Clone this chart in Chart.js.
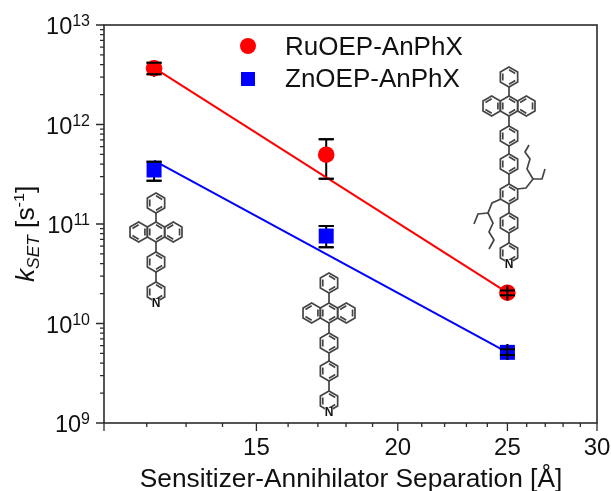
<!DOCTYPE html>
<html>
<head>
<meta charset="utf-8">
<title>kSET vs separation</title>
<script src="https://cdn.jsdelivr.net/npm/chart.js@4"></script>
<style>
 html, body { margin: 0; padding: 0; background: #fff; }
 canvas { display: block; }
</style>
</head>
<body>
<canvas id="ksetChart" width="611" height="491"></canvas>
<script>
var separation = [12.18, 17.29, 25];
var fitSeparation = [12.18, 25];

var ruValues = [3.67e12, 4.97e11, 2.04e10];
var ruHigh = [4.18e12, 7.1e11, 2.14e10];
var ruLow = [3.2e12, 2.85e11, 1.92e10];
var ruFit = [3.7e12, 2.04e10];

var znValues = [3.49e11, 7.57e10, 5.13e9];
var znHigh = [4.23e11, 9.55e10, 5.5e9];
var znLow = [2.72e11, 5.83e10, 4.82e9];
var znFit = [4.33e11, 5.13e9];

var xTicks = [11, 12, 13, 14, 15, 16, 17, 18, 19, 20, 21, 22, 23, 24, 25, 26, 27, 28, 29, 30];
var xTickLabels = [15, 20, 25, 30];
var yDecades = [9, 10, 11, 12, 13];
var yMinorSteps = [2, 3, 4, 5, 6, 7, 8, 9];

var seriesNames = ["RuOEP-AnPhX", "ZnOEP-AnPhX"];
var xTitle = "Sensitizer-Annihilator Separation [Å]";

var FONT = '"Liberation Sans", Arial, sans-serif';
var INK = "#111";
var AXIS = "#2b2b2b";
var BOND = "#444";

function toPoints(xs, ys) {
 return xs.map(function (x, i) {
  return { x: x, y: ys[i] };
 });
}

function yTickValues() {
 var out = [];
 yDecades.forEach(function (d) {
  out.push({ value: Math.pow(10, d), major: true });
  if (d < yDecades[yDecades.length - 1]) {
   yMinorSteps.forEach(function (m) {
    out.push({ value: m * Math.pow(10, d) });
   });
  }
 });
 return out;
}

// the reference text runs a little wider than the plain font
function wideText(ctx, text, x, y, stretch) {
 ctx.save();
 ctx.translate(x, y);
 ctx.scale(stretch, 1);
 ctx.fillText(text, 0, 0);
 ctx.restore();
}

// error bars
function drawErrorBars(chart, low, high, onTop) {
 var ctx = chart.ctx;
 var xs = chart.scales.x;
 var ys = chart.scales.y;
 ctx.save();
 ctx.strokeStyle = "#000";
 ctx.lineWidth = 2;
 separation.forEach(function (v, i) {
  var x = xs.getPixelForValue(v);
  var top = ys.getPixelForValue(high[i]);
  var bot = ys.getPixelForValue(low[i]);
  var gap = bot - top;
  var ext = gap < 8 ? 5 : gap < 14 ? 2.5 : 0;
  ctx.beginPath();
  if (!onTop || gap < 8) {
   ctx.moveTo(x, top - ext);
   ctx.lineTo(x, bot + ext);
  }
  ctx.moveTo(x - 7.5, top);
  ctx.lineTo(x + 7.5, top);
  ctx.moveTo(x - 7.5, bot);
  ctx.lineTo(x + 7.5, bot);
  ctx.stroke();
 });
 ctx.restore();
}

// axes frame and ticks
function drawFrame(chart) {
 var ctx = chart.ctx;
 var a = chart.chartArea;
 ctx.save();
 ctx.strokeStyle = AXIS;
 ctx.lineWidth = 1.6;
 ctx.strokeRect(a.left, a.top, a.right - a.left, a.bottom - a.top);
 ctx.lineWidth = 1.3;
 ctx.beginPath();
 chart.scales.x.ticks.forEach(function (t) {
  var x = chart.scales.x.getPixelForValue(t.value);
  var major = xTickLabels.indexOf(t.value) >= 0 || t.value === 11;
  ctx.moveTo(x, a.bottom);
  ctx.lineTo(x, a.bottom + (major ? 8 : 4));
 });
 chart.scales.y.ticks.forEach(function (t) {
  var y = chart.scales.y.getPixelForValue(t.value);
  ctx.moveTo(a.left, y);
  ctx.lineTo(a.left - (t.major ? 8 : 4), y);
 });
 ctx.stroke();
 ctx.restore();
}

function drawYLabels(chart) {
 var ctx = chart.ctx;
 var right = chart.chartArea.left - 14;
 ctx.save();
 ctx.fillStyle = INK;
 ctx.textBaseline = "alphabetic";
 ctx.textAlign = "left";
 yDecades.forEach(function (d) {
  var y = chart.scales.y.getPixelForValue(Math.pow(10, d));
  var sup = String(d);
  ctx.font = "16px " + FONT;
  var supW = ctx.measureText(sup).width;
  ctx.fillText(sup, right - supW, y + 1);
  ctx.font = "23.5px " + FONT;
  var tenW = ctx.measureText("10").width;
  ctx.fillText("10", right - supW - tenW, y + 9);
 });
 ctx.restore();
}

function drawYTitle(chart) {
 var ctx = chart.ctx;
 var parts = [
  { t: "k", size: 25, dy: 0, style: "italic " },
  { t: "SET", size: 16.5, dy: 5, style: "italic " },
  { t: " [s", size: 25, dy: 0, style: "" },
  { t: "-1", size: 15.5, dy: -10, style: "" },
  { t: "]", size: 25, dy: 0, style: "" },
 ];
 ctx.save();
 ctx.translate(34, 282);
 ctx.rotate(-Math.PI / 2);
 ctx.scale(1.05, 1);
 ctx.fillStyle = INK;
 ctx.textAlign = "left";
 ctx.textBaseline = "alphabetic";
 var pos = 0;
 parts.forEach(function (p) {
  ctx.font = p.style + p.size + "px " + FONT;
  ctx.fillText(p.t, pos, p.dy);
  pos += ctx.measureText(p.t).width;
 });
 ctx.restore();
}

function drawXTitle(chart) {
 var ctx = chart.ctx;
 ctx.save();
 ctx.fillStyle = INK;
 ctx.font = "25px " + FONT;
 ctx.textAlign = "center";
 ctx.textBaseline = "alphabetic";
 wideText(ctx, xTitle, 351, 487, 1.052);
 ctx.restore();
}

function drawLegend(chart) {
 var ctx = chart.ctx;
 ctx.save();
 ctx.fillStyle = "#f00";
 ctx.beginPath();
 ctx.arc(248, 46, 8, 0, Math.PI * 2);
 ctx.fill();
 ctx.fillStyle = "#00f";
 ctx.fillRect(241, 72, 14, 14);
 ctx.fillStyle = INK;
 ctx.font = "25px " + FONT;
 ctx.textBaseline = "alphabetic";
 ctx.textAlign = "left";
 wideText(ctx, seriesNames[0], 285, 54.5, 1.04);
 wideText(ctx, seriesNames[1], 285, 87, 1.04);
 ctx.restore();
}

// molecule sketches
function hexCorners(cx, cy, r) {
 var out = [];
 for (var i = 0; i < 6; i++) {
  var a = -Math.PI / 2 + i * Math.PI / 3;
  out.push([cx + r * Math.cos(a), cy + r * Math.sin(a)]);
 }
 return out;
}

function hexagon(ctx, cx, cy, r, start) {
 var c = hexCorners(cx, cy, r);
 var inner = hexCorners(cx, cy, r * 0.72);
 ctx.beginPath();
 c.forEach(function (p, i) {
  if (i === 0) ctx.moveTo(p[0], p[1]);
  else ctx.lineTo(p[0], p[1]);
 });
 ctx.closePath();
 for (var i = start; i < 6; i += 2) {
  var n = (i + 1) % 6;
  ctx.moveTo(inner[i][0], inner[i][1]);
  ctx.lineTo(inner[n][0], inner[n][1]);
 }
 ctx.stroke();
}

function polyline(ctx, pts) {
 ctx.beginPath();
 pts.forEach(function (p, i) {
  if (i === 0) ctx.moveTo(p[0], p[1]);
  else ctx.lineTo(p[0], p[1]);
 });
 ctx.stroke();
}

function drawMolecule(ctx, cx, rows) {
 var r = 10;
 var w = r * Math.cos(Math.PI / 6);
 rows.forEach(function (y, i) {
  if (i === 1) {
   hexagon(ctx, cx - 2 * w, y, r, 1);
   hexagon(ctx, cx, y, r, 0);
   hexagon(ctx, cx + 2 * w, y, r, 1);
  } else {
   hexagon(ctx, cx, y, r, 0);
  }
  if (i > 0) {
   polyline(ctx, [[cx, rows[i - 1] + r], [cx, y - r]]);
  }
 });
 var last = rows[rows.length - 1];
 ctx.save();
 ctx.fillStyle = "#fff";
 ctx.fillRect(cx - 4, last + 7, 8, 8);
 ctx.fillStyle = "#111";
 ctx.font = "bold 12px " + FONT;
 ctx.textAlign = "center";
 ctx.textBaseline = "middle";
 ctx.fillText("N", cx, last + 11.5);
 ctx.restore();
}

function drawMolecules(chart) {
 var ctx = chart.ctx;
 ctx.save();
 ctx.strokeStyle = BOND;
 ctx.lineWidth = 1.7;
 drawMolecule(ctx, 156, [203, 232, 262, 292]);
 drawMolecule(ctx, 329, [283, 313, 343, 371, 401]);
 drawMolecule(ctx, 509, [77, 106, 136, 164, 194, 223, 253]);
 polyline(ctx, [[517, 189], [526, 188], [533, 179], [527, 169], [530, 159], [525, 152], [529, 145]]);
 polyline(ctx, [[533, 179], [542, 179], [545, 169]]);
 polyline(ctx, [[501, 199], [492, 203], [488, 213], [493, 223], [489, 232], [494, 240], [489, 249]]);
 polyline(ctx, [[488, 213], [478, 214], [474, 224]]);
 ctx.restore();
}

var ksetDecor = {
 id: "ksetDecor",
 beforeDatasetsDraw: function (chart) {
  drawErrorBars(chart, ruLow, ruHigh, false);
  drawErrorBars(chart, znLow, znHigh, false);
 },
 afterDatasetsDraw: function (chart) {
  drawErrorBars(chart, ruLow, ruHigh, true);
  drawErrorBars(chart, znLow, znHigh, true);
 },
 afterDraw: function (chart) {
  drawMolecules(chart);
  drawFrame(chart);
  drawYLabels(chart);
  drawYTitle(chart);
  drawXTitle(chart);
  drawLegend(chart);
 },
};

new Chart(document.getElementById("ksetChart"), {
 type: "scatter",
 data: {
  datasets: [
   {
    label: seriesNames[0],
    data: toPoints(separation, ruValues),
    pointStyle: "circle",
    pointRadius: 8.3,
    pointBorderWidth: 0,
    backgroundColor: "#f00",
   },
   {
    label: seriesNames[1],
    data: toPoints(separation, znValues),
    pointStyle: "rect",
    pointRadius: 10.6,
    pointBorderWidth: 0,
    backgroundColor: "#00f",
   },
   {
    label: seriesNames[0] + " fit",
    data: toPoints(fitSeparation, ruFit),
    showLine: true,
    pointRadius: 0,
    borderColor: "#f00",
    borderWidth: 2,
   },
   {
    label: seriesNames[1] + " fit",
    data: toPoints(fitSeparation, znFit),
    showLine: true,
    pointRadius: 0,
    borderColor: "#00f",
    borderWidth: 2,
   },
  ],
 },
 options: {
  responsive: false,
  animation: false,
  layout: { padding: { top: 25, right: 14, left: 0, bottom: 0 } },
  plugins: { legend: { display: false }, tooltip: { enabled: false } },
  scales: {
   x: {
    type: "logarithmic",
    min: 11,
    max: 30,
    afterBuildTicks: function (scale) {
     scale.ticks = xTicks.map(function (v) {
      return { value: v };
     });
    },
    afterFit: function (scale) {
     scale.height = 68;
     scale.paddingLeft = 0;
     scale.paddingRight = 0;
    },
    grid: { display: false, drawTicks: false },
    border: { display: false },
    ticks: {
     autoSkip: false,
     maxRotation: 0,
     padding: 11,
     color: INK,
     font: { family: FONT, size: 24 },
     callback: function (v) {
      return xTickLabels.indexOf(v) >= 0 ? String(v) : "";
     },
    },
   },
   y: {
    type: "logarithmic",
    min: 1e9,
    max: 1e13,
    afterBuildTicks: function (scale) {
     scale.ticks = yTickValues();
    },
    afterFit: function (scale) {
     scale.width = 104;
    },
    grid: { display: false, drawTicks: false },
    border: { display: false },
    ticks: { display: false },
   },
  },
 },
 plugins: [ksetDecor],
});
</script>
</body>
</html>
